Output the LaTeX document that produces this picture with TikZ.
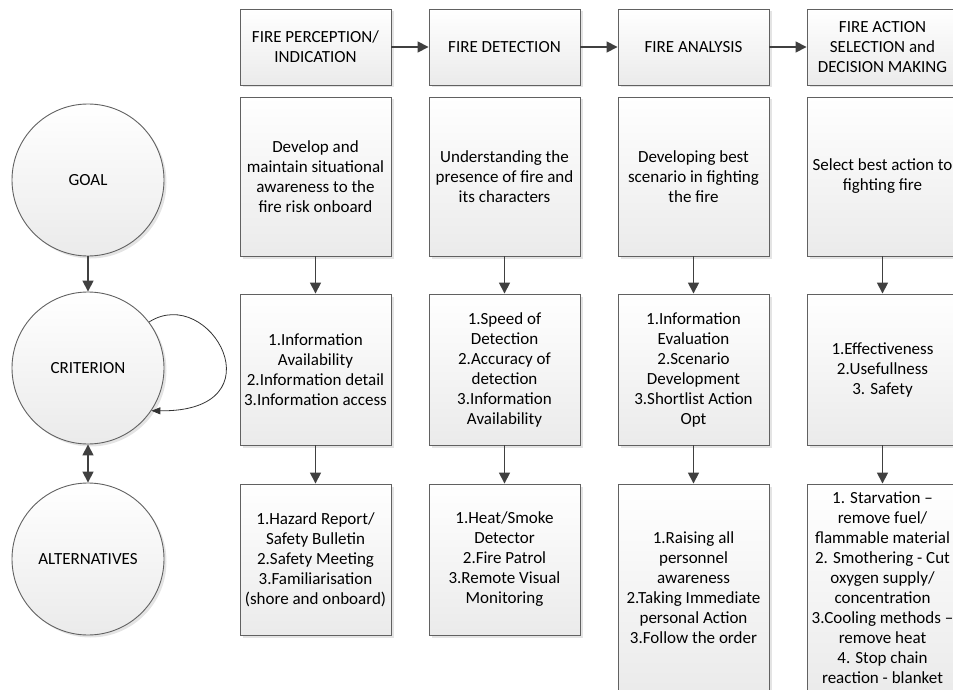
\documentclass[tikz,border=0pt]{standalone}
\usepackage{fontspec}
\setmainfont{Carlito}
\usetikzlibrary{positioning,arrows.meta,shadows}

\begin{document}
\begin{tikzpicture}[x=1pt,y=-1pt,
  box/.style={draw=black!62,line width=0.9pt,top color=white,bottom color=black!8,
    drop shadow={shadow xshift=2.5pt,shadow yshift=-2.5pt,fill=black!15,opacity=0.7},
    minimum width=151pt,inner sep=0pt,align=center,font=\fontsize{17}{20}\selectfont},
  circ/.style={box,circle,minimum size=152pt},
  arr/.style={draw=black!75,line width=1.6pt,-{Triangle[length=11pt,width=11pt]}}]
\useasboundingbox (0,0) rectangle (953,690);
% left column: AHP levels
\node[circ] (goal) at (88,180) {GOAL};
\node[circ] (crit) at (88,368) {CRITERION};
\node[circ] (alt) at (88,559) {ALTERNATIVES};
% top row: fire-fighting process stages
\node[box,minimum height=76pt] (perc) at (315.5,47) {FIRE PERCEPTION/\\INDICATION};
\node[box,minimum height=76pt] (detc) at (504.5,47) {FIRE DETECTION};
\node[box,minimum height=76pt] (anal) at (693.5,47) {FIRE ANALYSIS};
\node[box,minimum height=76pt] (sele) at (882.5,47) {FIRE ACTION\\SELECTION and\\DECISION MAKING};
% goals
\node[box,minimum height=159pt] (g1) at (315.5,176.5) {Develop and\\maintain situational\\awareness to the\\fire risk onboard};
\node[box,minimum height=159pt] (g2) at (504.5,176.5) {Understanding the\\presence of fire and\\its characters};
\node[box,minimum height=159pt] (g3) at (693.5,176.5) {Developing best\\scenario in fighting\\the fire};
\node[box,minimum height=159pt] (g4) at (882.5,176.5) {Select best action to\\fighting fire};
% criteria
\node[box,minimum height=151pt] (c1) at (315.5,369.5) {1.Information\\Availability\\2.Information detail\\3.Information access};
\node[box,minimum height=151pt] (c2) at (504.5,369.5) {1.Speed of\\Detection\\2.Accuracy of\\detection\\3.Information\\Availability};
\node[box,minimum height=151pt] (c3) at (693.5,369.5) {1.Information\\Evaluation\\2.Scenario\\Development\\3.Shortlist Action\\Opt};
\node[box,minimum height=151pt] (c4) at (882.5,369.5) {1.Effectiveness\\2.Usefullness\\3. Safety};
% alternatives
\node[box,minimum height=151pt] (a1) at (315.5,559.5) {1.Hazard Report/\\Safety Bulletin\\2.Safety Meeting\\3.Familiarisation\\(shore and onboard)};
\node[box,minimum height=151pt] (a2) at (504.5,559.5) {1.Heat/Smoke\\Detector\\2.Fire Patrol\\3.Remote Visual\\Monitoring};
\node[box,minimum height=208pt] (a3) at (693.5,588) {1.Raising all\\personnel\\awareness\\2.Taking Immediate\\personal Action\\3.Follow the order};
\node[box,minimum height=208pt] (a4) at (882.5,588) {1. Starvation --\\remove fuel/\\flammable material\\2. Smothering - Cut\\oxygen supply/\\concentration\\3.Cooling methods --\\remove heat\\4. Stop chain\\reaction - blanket};
% connectors
\draw[arr] (goal) -- (crit);
\draw[arr,{Triangle[length=11pt,width=11pt]}-{Triangle[length=11pt,width=11pt]}] (crit) -- (alt);
\draw[draw=black!80,line width=0.8pt,-{Triangle[length=9pt,width=7pt]}]
  (crit.37) .. controls (210,283) and (282,412) .. (crit.-34);
\draw[arr] (perc) -- (detc);
\draw[arr] (detc) -- (anal);
\draw[arr] (anal) -- (sele);
\foreach \i in {1,...,4} {
  \draw[arr] (g\i) -- (c\i);
  \draw[arr] (c\i) -- (a\i.north);
}
\end{tikzpicture}
\end{document}
